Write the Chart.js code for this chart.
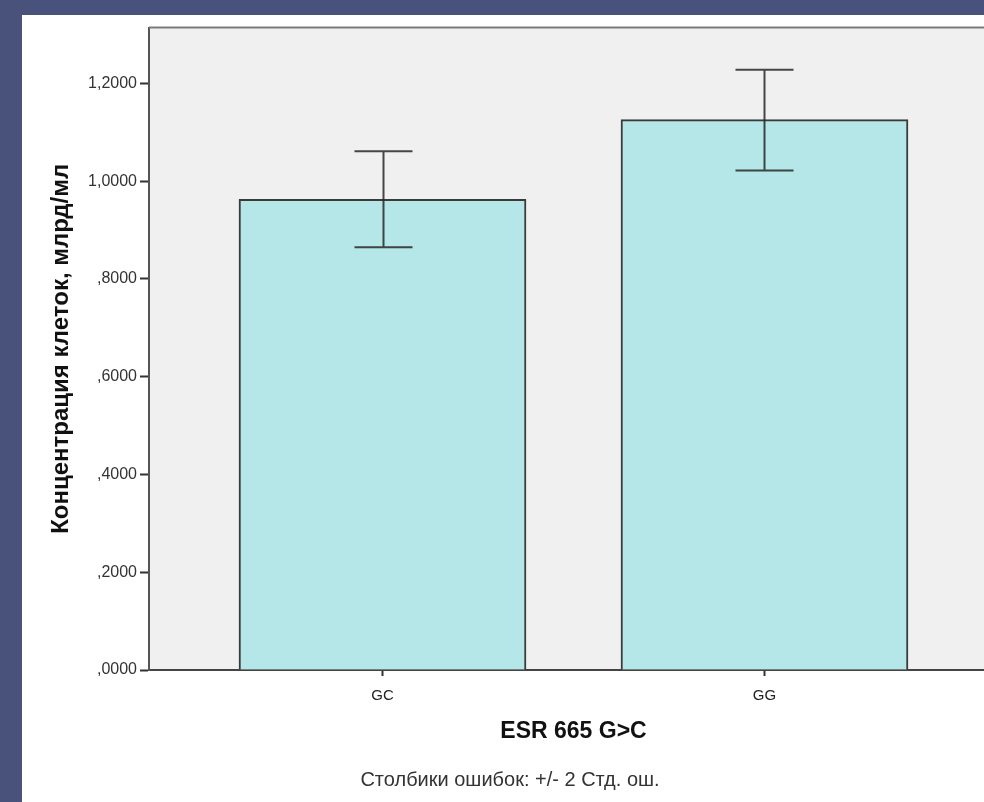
<!DOCTYPE html>
<html>
<head>
<meta charset="utf-8">
<script src="https://cdn.jsdelivr.net/npm/chart.js@4"></script>
<style>
  html, body { margin: 0; padding: 0; background: #48527b; overflow: hidden; }
  body { width: 984px; height: 802px; position: relative; }
  #panel { position: absolute; left: 22px; top: 15px; width: 986px; height: 787px; background: #ffffff; }
  canvas { display: block; }
</style>
</head>
<body>
<div id="panel"><canvas id="chart" width="986" height="787"></canvas></div>
<script>
// Genotype groups and mean cell concentration (bn/ml) with ±2 SE limits
const categories = ['GC', 'GG'];
const means = [0.963, 1.126];
const errLow = [0.865, 1.022];
const errHigh = [1.061, 1.228];
const yTicks = [0, 0.2, 0.4, 0.6, 0.8, 1.0, 1.2];

const fmt = v => {
  const s = Number(v).toFixed(4).replace('.', ',');
  return s.startsWith('0,') ? s.slice(1) : s;
};

const frameAndBackground = {
  id: 'frameAndBackground',
  beforeDraw(chart) {
    const { ctx, chartArea: a } = chart;
    ctx.save();
    ctx.fillStyle = '#f0f0f0';
    ctx.fillRect(a.left, a.top, a.right - a.left, a.bottom - a.top);
    ctx.restore();
  },
  afterDatasetsDraw(chart) {
    const { ctx, chartArea: a } = chart;
    ctx.save();
    ctx.strokeStyle = '#7a7a7a';
    ctx.lineWidth = 2;
    ctx.beginPath();
    ctx.moveTo(a.left, a.top);
    ctx.lineTo(a.right, a.top);
    ctx.lineTo(a.right, a.bottom);
    ctx.stroke();
    ctx.restore();
  }
};

const errorBars = {
  id: 'errorBars',
  afterDatasetsDraw(chart) {
    const { ctx, scales: { x, y } } = chart;
    const capHalf = 29;
    ctx.save();
    ctx.strokeStyle = 'rgba(40,40,40,0.85)';
    ctx.lineWidth = 2;
    categories.forEach((c, i) => {
      const px = Math.round(x.getPixelForValue(i)) + 0.5;
      const yl = y.getPixelForValue(errLow[i]);
      const yh = y.getPixelForValue(errHigh[i]);
      ctx.beginPath();
      ctx.moveTo(px, yh); ctx.lineTo(px, yl);
      ctx.moveTo(px - capHalf, yh); ctx.lineTo(px + capHalf, yh);
      ctx.moveTo(px - capHalf, yl); ctx.lineTo(px + capHalf, yl);
      ctx.stroke();
    });
    ctx.restore();
  }
};

new Chart(document.getElementById('chart'), {
  type: 'bar',
  data: {
    datasets: [{
      data: categories.map((c, i) => ({ x: i, y: means[i] })),
      backgroundColor: '#b5e6e8',
      borderColor: '#3a3a3a',
      borderWidth: 2,
      barThickness: 287
    }]
  },
  options: {
    responsive: false,
    animation: false,
    layout: { padding: { top: 11, right: 10, left: 0, bottom: 0 } },
    plugins: {
      legend: { display: false },
      tooltip: { enabled: false },
      title: {
        display: true,
        position: 'bottom',
        text: 'Столбики ошибок: +/- 2 Стд. ош.',
        color: '#333333',
        font: { family: 'Liberation Sans, Arial, sans-serif', size: 20, weight: 'normal' },
        padding: { top: 17, bottom: 10 }
      }
    },
    scales: {
      x: {
        type: 'linear',
        offset: false,
        min: -0.6113,
        max: 1.6113,
        afterBuildTicks(scale) {
          scale.ticks = categories.map((c, i) => ({ value: i }));
        },
        afterFit(scale) { scale.height = 81; },
        ticks: {
          callback: v => categories[v] ?? '',
          color: '#222222',
          font: { family: 'Liberation Sans, Arial, sans-serif', size: 15 },
          padding: 11,
          maxRotation: 0
        },
        grid: { offset: false, drawOnChartArea: false, tickLength: 6, tickColor: '#333333', tickWidth: 2 },
        border: { color: '#444444', width: 2 },
        title: {
          display: true,
          text: 'ESR 665 G>C',
          color: '#111111',
          font: { family: 'Liberation Sans, Arial, sans-serif', size: 23, weight: 'bold' },
          padding: { top: 0, bottom: 6 }
        }
      },
      y: {
        min: 0,
        max: 1.3141,
        afterBuildTicks(scale) {
          scale.ticks = yTicks.map(v => ({ value: v }));
        },
        afterFit(scale) { scale.width = 127; },
        ticks: {
          callback: v => fmt(v),
          color: '#333333',
          font: { family: 'Liberation Sans, Arial, sans-serif', size: 16 },
          padding: 3
        },
        grid: { drawOnChartArea: false, tickLength: 9, tickColor: '#333333', tickWidth: 2 },
        border: { color: '#555555', width: 2 },
        title: {
          display: true,
          text: 'Концентрация клеток, млрд/мл',
          color: '#111111',
          font: { family: 'Liberation Sans, Arial, sans-serif', size: 24, weight: 'bold' },
          padding: { top: 25 }
        }
      }
    }
  },
  plugins: [frameAndBackground, errorBars]
});
</script>
</body>
</html>
